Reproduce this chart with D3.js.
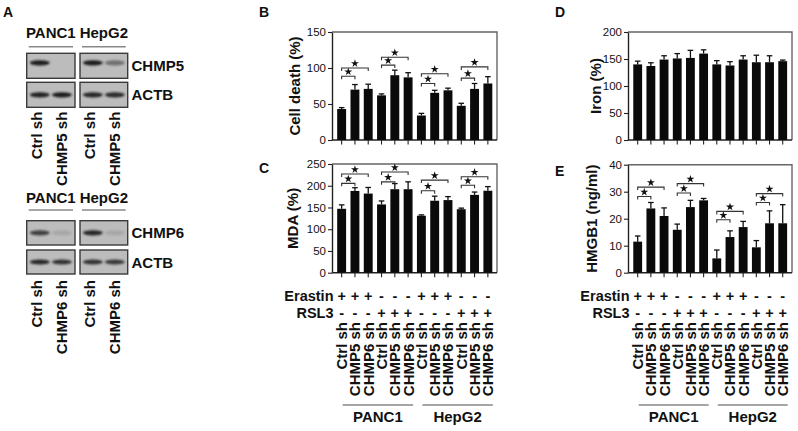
<!DOCTYPE html>
<html lang="en">
<head>
<meta charset="utf-8">
<title>CHMP5 / CHMP6 knockdown</title>
<script src="https://d3js.org/d3.v7.min.js"></script>
<style>
  body { margin: 0; background: #fff; }
  svg text { font-family: "Liberation Sans", Arial, Helvetica, sans-serif; fill: #111; }
  .bold { font-weight: bold; }
  .tick text { font-size: 11.5px; font-weight: normal; }
</style>
</head>
<body>
<svg width="798" height="431"></svg>
<script>
// ---- data ----
const conditions = ["Ctrl sh", "CHMP5 sh", "CHMP6 sh", "Ctrl sh", "CHMP5 sh", "CHMP6 sh",
                    "Ctrl sh", "CHMP5 sh", "CHMP6 sh", "Ctrl sh", "CHMP5 sh", "CHMP6 sh"];
const erastin = ["+", "+", "+", "-", "-", "-", "+", "+", "+", "-", "-", "-"];
const rsl3    = ["-", "-", "-", "+", "+", "+", "-", "-", "-", "+", "+", "+"];
const cellLines = ["PANC1", "HepG2"];

const cellDeath    = [43, 70, 71, 62, 90, 87, 34, 65.5, 69, 47.5, 71, 78.5];
const cellDeathErr = [2, 7, 6.5, 2, 7, 6.5, 3, 3.5, 3, 3.5, 7.5, 9.5];
const mda          = [147, 188, 182, 157, 192, 192, 131, 165.5, 167, 146, 179, 188.5];
const mdaErr       = [9, 7.5, 14, 8, 13, 17, 2, 10.5, 8, 2.5, 6.5, 9.5];
const iron         = [140, 137, 149, 151, 152, 160, 140, 138, 149, 144, 144, 146];
const ironErr      = [6, 6, 7, 9, 14, 7, 7, 7, 7, 13, 12, 2];
const hmgb1        = [11.5, 23.8, 21, 15.9, 24.3, 26.8, 5.3, 13.2, 16.9, 9.4, 18.3, 18.3];
const hmgb1Err     = [2.1, 2.2, 3, 2.1, 2.5, 0.7, 3.1, 2.3, 2.1, 2.5, 4.6, 6.9];

// significance brackets: [from bar, to bar, height in data units]
const sigB = [[0, 1, 88.6], [0, 2, 100], [3, 4, 104], [3, 5, 115], [6, 7, 78.5], [6, 8, 92], [9, 10, 86], [9, 11, 101.5]];
const sigC = [[0, 1, 205.5], [0, 2, 227], [3, 4, 209], [3, 5, 231.5], [6, 7, 188.5], [6, 8, 213], [9, 10, 201], [9, 11, 220.7]];
const sigE = [[0, 1, 28.2], [0, 2, 31.7], [3, 4, 29.5], [3, 5, 33], [6, 7, 19.6], [6, 8, 22.7], [9, 10, 26], [9, 11, 29.3]];

// western blots: band intensity per lane (PANC1 ctrl, PANC1 kd, HepG2 ctrl, HepG2 kd)
const blotRows = ["CHMP5", "ACTB", "CHMP6", "ACTB"];
const bandIntensity = [[0.95, 0, 0.92, 0.45], [0.9, 0.92, 0.88, 0.86], [0.72, 0.12, 0.88, 0.12], [0.88, 0.82, 0.8, 0.76]];
const blotLanes = [["Ctrl sh", "CHMP5 sh"], ["Ctrl sh", "CHMP6 sh"]];

const svg = d3.select("svg");

// blur filter for blot bands
const defs = svg.append("defs");
defs.append("filter").attr("id", "blur").attr("x", "-50%").attr("y", "-100%").attr("width", "200%").attr("height", "300%")
  .append("feGaussianBlur").attr("stdDeviation", 1.3);

function letter(t, x, y) {
  svg.append("text").attr("class", "bold").attr("x", x).attr("y", y)
    .style("font-size", "14px").text(t);
}

// ---------------- panel A ----------------
letter("A", 3, 17);
const blotX = [[26.7, 48.3], [80, 47.7]];
const blotY = [[53.3, 25], [82.3, 25], [220.7, 24.3], [250, 24]];
const bandOff = [-3, 0, 0, 0];

function cellHeader(yb, yl) {
  cellLines.forEach((c, k) => {
    const [bx, bw] = blotX[k];
    svg.append("text").attr("class", "bold").attr("x", bx + bw / 2).attr("y", yb)
      .attr("text-anchor", "middle").style("font-size", "15px").text(c);
    svg.append("line").attr("x1", bx + 2).attr("x2", bx + bw - 2).attr("y1", yl).attr("y2", yl)
      .attr("stroke", "#888").attr("stroke-width", 1.5);
  });
}
cellHeader(38, 46.7);
cellHeader(203.3, 210);

blotRows.forEach((name, r) => {
  const [ry, rh] = blotY[r];
  blotX.forEach(([bx, bw], k) => {
    svg.append("rect").attr("x", bx).attr("y", ry).attr("width", bw).attr("height", rh)
      .attr("fill", "#bcbcbc").attr("stroke", "#3a3a3a").attr("stroke-width", 1.4);
    [0, 1].forEach(l => {
      const v = bandIntensity[r][k * 2 + l];
      if (v <= 0) return;
      const cx = bx + bw * (l === 0 ? 0.27 : 0.73);
      svg.append("ellipse").attr("cx", cx).attr("cy", ry + rh / 2 + bandOff[r])
        .attr("rx", 10).attr("ry", 2.6)
        .attr("fill", d3.interpolateRgb("#bcbcbc", "#111")(v))
        .attr("filter", "url(#blur)");
    });
  });
  svg.append("text").attr("class", "bold").attr("x", 131.5).attr("y", ry + rh / 2 + 5.5)
    .style("font-size", "15px").text(name);
});

blotLanes.forEach((lanes, s) => {
  const top = s === 0 ? 111.7 : 280;
  blotX.forEach(([bx, bw]) => {
    lanes.forEach((lab, l) => {
      const cx = bx + bw * (l === 0 ? 0.2 : 0.73);
      svg.append("text").attr("class", "bold")
        .attr("transform", `translate(${cx + 5.5},${top}) rotate(-90)`)
        .attr("text-anchor", "end").style("font-size", "15px").text(lab);
    });
  });
});

// ---------------- bar panels ----------------
function barPanel(o) {
  const n = o.values.length;
  const x = d3.scaleBand().domain(d3.range(n)).range(o.xr).paddingInner(0.33).paddingOuter(0.165);
  const y = d3.scaleLinear().domain(o.domain).range(o.yr);
  const g = svg.append("g");
  const cx = i => x(i) + x.bandwidth() / 2;
  const [left, right] = o.frame;

  // frame top/right
  g.append("path").attr("d", `M${left},${o.yr[1]}H${right}V${o.yr[0]}`)
    .attr("fill", "none").attr("stroke", "#666").attr("stroke-width", 1.4);
  // x axis line
  g.append("line").attr("x1", left).attr("x2", right).attr("y1", o.yr[0]).attr("y2", o.yr[0])
    .attr("stroke", "#222").attr("stroke-width", 1.4);

  // error bars
  const eb = g.selectAll(".eb").data(o.values).join("g");
  eb.append("line").attr("x1", (d, i) => cx(i)).attr("x2", (d, i) => cx(i))
    .attr("y1", d => y(d)).attr("y2", (d, i) => y(d + o.errors[i]))
    .attr("stroke", "#111").attr("stroke-width", 1.3);
  eb.append("line").attr("x1", (d, i) => cx(i) - 2.8).attr("x2", (d, i) => cx(i) + 2.8)
    .attr("y1", (d, i) => y(d + o.errors[i])).attr("y2", (d, i) => y(d + o.errors[i]))
    .attr("stroke", "#111").attr("stroke-width", 1.3);

  // bars
  g.selectAll(".bar").data(o.values).join("rect")
    .attr("x", (d, i) => x(i)).attr("width", x.bandwidth())
    .attr("y", d => y(d)).attr("height", d => y(0) - y(d))
    .attr("fill", "#0a0a0a");

  // x ticks
  g.selectAll(".xt").data(o.values).join("line")
    .attr("x1", (d, i) => cx(i)).attr("x2", (d, i) => cx(i))
    .attr("y1", o.yr[0]).attr("y2", o.yr[0] + 4.5)
    .attr("stroke", "#222").attr("stroke-width", 1.1);

  // y axis
  const ax = g.append("g").attr("transform", `translate(${left},0)`)
    .call(d3.axisLeft(y).tickValues(o.ticks).tickSize(4).tickSizeOuter(0).tickPadding(2));
  ax.select(".domain").attr("stroke", "#222").attr("stroke-width", 1.4);
  ax.selectAll(".tick line").attr("stroke", "#222").attr("stroke-width", 1.1);
  ax.selectAll(".tick text").attr("fill", "#111").attr("font-family", null);

  // y label
  g.append("text").attr("class", "bold")
    .attr("transform", `translate(${o.labelX},${(o.yr[0] + o.yr[1]) / 2}) rotate(-90)`)
    .attr("text-anchor", "middle").style("font-size", "15px").text(o.label);

  // significance
  (o.sig || []).forEach(([a, b, h]) => {
    const yy = y(h);
    g.append("path").attr("d", `M${cx(a)},${yy + 3}V${yy}H${cx(b)}V${yy + 3}`)
      .attr("fill", "none").attr("stroke", "#333").attr("stroke-width", 1.1);
    g.append("path").attr("d", d3.symbol(d3.symbolStar, 20)())
      .attr("transform", `translate(${(cx(a) + cx(b)) / 2},${yy - 4.5})`).attr("fill", "#111");
  });

  // treatment rows and lane labels
  if (o.treat) {
    g.append("text").attr("class", "bold").attr("x", left + 1.5).attr("y", 301)
      .attr("text-anchor", "end").style("font-size", "14.5px").text("Erastin");
    g.append("text").attr("class", "bold").attr("x", left + 1.5).attr("y", 318)
      .attr("text-anchor", "end").style("font-size", "14.5px").text("RSL3");
    g.selectAll(".er").data(erastin).join("text").attr("class", "bold")
      .attr("x", (d, i) => cx(i)).attr("y", 301).attr("text-anchor", "middle")
      .style("font-size", "14.5px").text(d => d);
    g.selectAll(".rs").data(rsl3).join("text").attr("class", "bold")
      .attr("x", (d, i) => cx(i)).attr("y", 318).attr("text-anchor", "middle")
      .style("font-size", "14.5px").text(d => d);
    g.selectAll(".cond").data(conditions).join("text").attr("class", "bold")
      .attr("transform", (d, i) => `translate(${cx(i) + 5.5},322) rotate(-90)`)
      .attr("text-anchor", "end").style("font-size", "15px").text(d => d);
    cellLines.forEach((c, k) => {
      const x1 = cx(k * 6) - 1, x2 = cx(k * 6 + 5) + 5;
      g.append("line").attr("x1", x1 + 2).attr("x2", x2).attr("y1", 405).attr("y2", 405)
        .attr("stroke", "#888").attr("stroke-width", 1.6);
      g.append("text").attr("class", "bold").attr("x", (x1 + x2) / 2 + 1).attr("y", 422)
        .attr("text-anchor", "middle").style("font-size", "15px").text(c);
    });
  }
}

letter("B", 259, 17);
barPanel({ values: cellDeath, errors: cellDeathErr, domain: [0, 150], ticks: [0, 50, 100, 150],
  xr: [335, 494.5], frame: [332, 497], yr: [140, 32], label: "Cell death (%)", labelX: 300, sig: sigB });

letter("C", 259, 173);
barPanel({ values: mda, errors: mdaErr, domain: [0, 250], ticks: [0, 50, 100, 150, 200, 250],
  xr: [335, 494.5], frame: [332, 497], yr: [272.7, 164], label: "MDA (%)", labelX: 298, sig: sigC, treat: true });

letter("D", 555, 17);
barPanel({ values: iron, errors: ironErr, domain: [0, 200], ticks: [0, 50, 100, 150, 200],
  xr: [631.1, 789.3], frame: [628, 792], yr: [140, 32], label: "Iron (%)", labelX: 601 });

letter("E", 555, 176);
barPanel({ values: hmgb1, errors: hmgb1Err, domain: [0, 40], ticks: [0, 10, 20, 30, 40],
  xr: [631.1, 789.3], frame: [628, 792], yr: [272.7, 164.7], label: "HMGB1 (ng/ml)", labelX: 597, sig: sigE, treat: true });
</script>
</body>
</html>
